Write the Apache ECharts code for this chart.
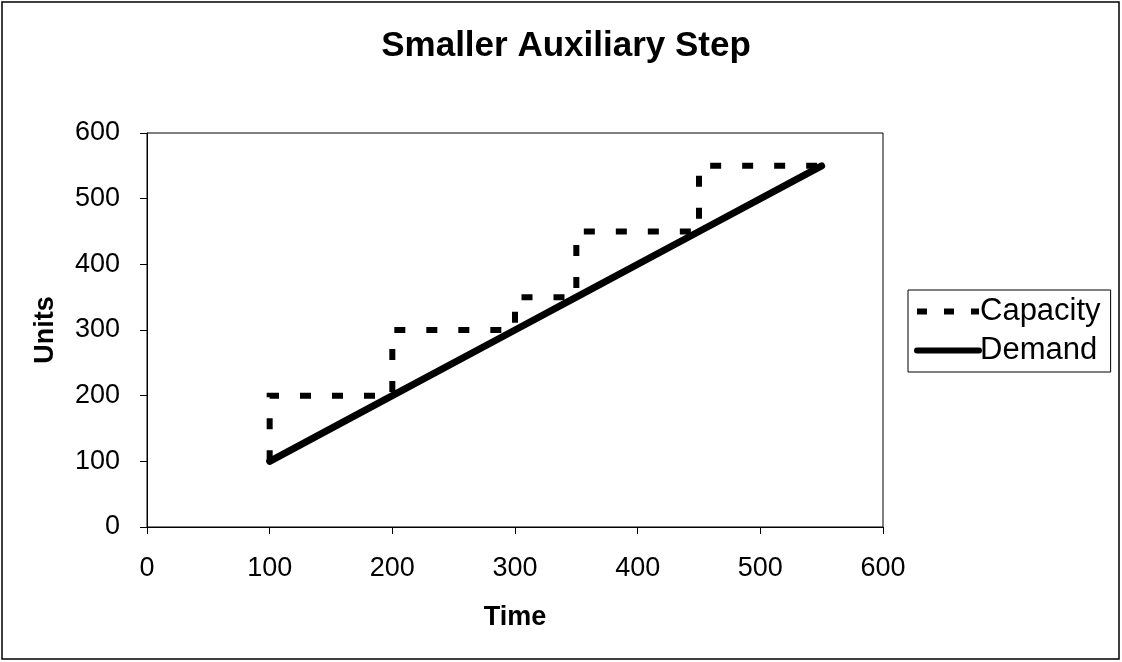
<!DOCTYPE html>
<html>
<head>
<meta charset="utf-8">
<script src="https://cdn.jsdelivr.net/npm/echarts@6/dist/echarts.min.js"></script>
<style>
html,body{margin:0;padding:0;background:#fff;}
#chart{width:1122px;height:662px;}
</style>
</head>
<body>
<div id="chart"></div>
<script>
// Data
var capacityTime  = [100, 100, 200, 200, 300, 300, 350, 350, 450, 450, 550];
var capacityUnits = [100, 200, 200, 300, 300, 350, 350, 450, 450, 550, 550];
var demandTime  = [100, 200, 300, 350, 450, 550];
var demandUnits = [100, 200, 300, 350, 450, 550];
var xTicks = [0, 100, 200, 300, 400, 500, 600];
var yTicks = [0, 100, 200, 300, 400, 500, 600];
var seriesNames = ['Capacity', 'Demand'];

var FONT = '"Liberation Sans", Arial, Helvetica, sans-serif';

function pairs(xs, ys) {
  return xs.map(function (x, i) { return [x, ys[i]]; });
}

var chart = echarts.init(document.getElementById('chart'), null, {renderer: 'canvas'});

var axisCommon = {
  type: 'value',
  min: 0,
  max: 600,
  interval: 100,
  axisLine: {show: true, lineStyle: {color: '#000', width: 1}},
  axisTick: {show: true, inside: false, length: 7, lineStyle: {color: '#000', width: 1}},
  splitLine: {show: false},
  axisLabel: {color: '#000', fontFamily: FONT, fontSize: 27, margin: 27},
  nameLocation: 'middle',
  nameTextStyle: {color: '#000', fontFamily: FONT, fontSize: 27, fontWeight: 'bold'}
};

var option = {
  animation: false,
  backgroundColor: '#fff',
  title: {
    text: 'Smaller Auxiliary Step',
    left: 561,
    textAlign: 'center',
    top: 24,
    textStyle: {color: '#000', fontFamily: FONT, fontSize: 35, fontWeight: 'bold'}
  },
  grid: {
    left: 147, right: 239, top: 133, bottom: 135,
    show: true, borderColor: '#000', borderWidth: 1, backgroundColor: '#fff'
  },
  xAxis: Object.assign({}, axisCommon, {
    name: 'Time',
    nameGap: 77,
    axisLabel: Object.assign({}, axisCommon.axisLabel, {
      margin: 28,
      formatter: function (v) { return xTicks.indexOf(v) >= 0 ? String(v) : ''; }
    })
  }),
  yAxis: Object.assign({}, axisCommon, {
    name: 'Units',
    nameGap: 88,
    axisLabel: Object.assign({}, axisCommon.axisLabel, {
      formatter: function (v) { return yTicks.indexOf(v) >= 0 ? String(v) : ''; }
    })
  }),
  legend: {
    orient: 'vertical',
    left: 908,
    top: 290,
    padding: [4, 10, 4, 6],
    borderColor: '#000',
    borderWidth: 1,
    itemWidth: 62,
    itemHeight: 14,
    itemGap: 4,
    itemStyle: {opacity: 0, color: 'transparent', borderWidth: 0},
    textStyle: {color: '#000', fontFamily: FONT, fontSize: 31, lineHeight: 35, padding: [0, 0, 0, -4]},
    data: [
      {name: seriesNames[0],
       lineStyle: {color: '#000', width: 6, type: [10, 17], cap: 'butt', opacity: 1}},
      {name: seriesNames[1],
       lineStyle: {color: '#000', width: 6, type: 'solid', cap: 'round', opacity: 1}}
    ]
  },
  series: [
    {
      name: seriesNames[0],
      type: 'line',
      data: pairs(capacityTime, capacityUnits),
      symbol: 'none',
      lineStyle: {color: '#000', width: 6, type: [11, 21], cap: 'butt', join: 'miter'},
      itemStyle: {color: '#000'},
      z: 3
    },
    {
      name: seriesNames[1],
      type: 'line',
      data: pairs(demandTime, demandUnits),
      symbol: 'none',
      lineStyle: {color: '#000', width: 7, type: 'solid', cap: 'round', join: 'round'},
      itemStyle: {color: '#000'},
      z: 4
    }
  ],
  graphic: [
    {
      type: 'rect',
      shape: {x: 2, y: 2, width: 1117, height: 657},
      style: {fill: 'none', stroke: '#000', lineWidth: 1.5},
      silent: true,
      z: 100
    }
  ]
};

chart.setOption(option);
</script>
</body>
</html>
